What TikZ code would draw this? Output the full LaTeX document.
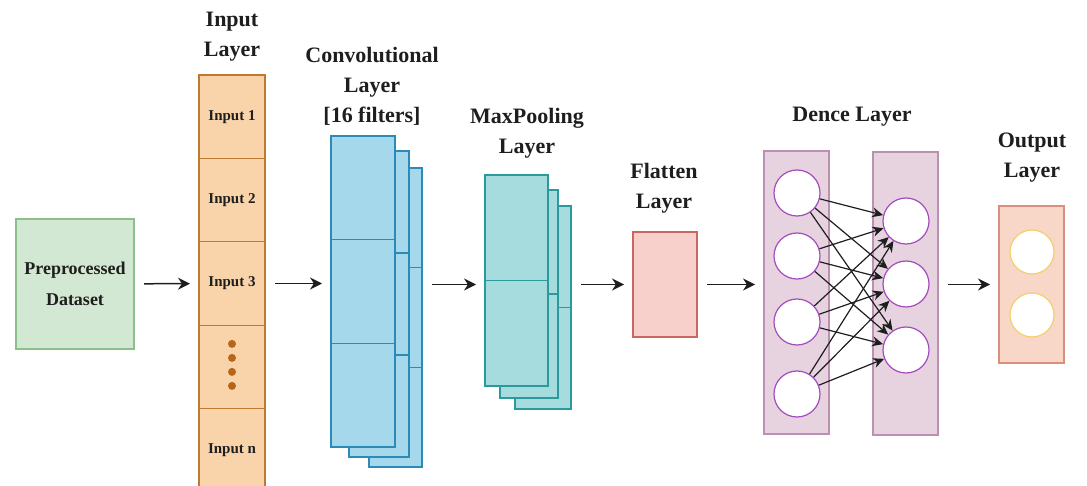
\documentclass[tikz,border=0pt]{standalone}
\usepackage{fontspec}
\setmainfont{Liberation Serif}
\definecolor{ink}{HTML}{1E1E1E}
\definecolor{prepfill}{HTML}{D3E8D2}
\definecolor{prepedge}{HTML}{8CC08A}
\definecolor{infill}{HTML}{F9D4AA}
\definecolor{inedge}{HTML}{C07A30}
\definecolor{indot}{HTML}{B8651A}
\definecolor{convfill}{HTML}{A6D8EC}
\definecolor{convedge}{HTML}{2B8AB8}
\definecolor{poolfill}{HTML}{A6DCDE}
\definecolor{pooledge}{HTML}{2A9A9E}
\definecolor{flatfill}{HTML}{F7D0CC}
\definecolor{flatedge}{HTML}{C8685F}
\definecolor{densefill}{HTML}{E6D3DF}
\definecolor{denseedge}{HTML}{BC90B0}
\definecolor{neuronedge}{HTML}{A44BBE}
\definecolor{outfill}{HTML}{F8D6C8}
\definecolor{outedge}{HTML}{DA8E7C}
\definecolor{outneuron}{HTML}{F2D06E}
\usetikzlibrary{arrows.meta,positioning,calc}

\begin{document}
\begin{tikzpicture}[x=1pt,y=-1pt,
  box/.style={rectangle, line width=1.2pt, inner sep=0pt, outer sep=0pt},
  cell/.style={box, draw=inedge, fill=infill, minimum width=66pt, minimum height=83.4pt, font=\fontsize{15}{18}\selectfont\bfseries, text=ink},
  convbox/.style={box, draw=convedge, fill=convfill},
  poolbox/.style={box, draw=pooledge, fill=poolfill},
  divider/.style={line width=1.3pt},
  layerbox/.style={box, draw=denseedge, fill=densefill, minimum width=65pt, minimum height=283pt},
  title/.style={align=center, font=\fontsize{22}{30}\selectfont\bfseries, text=ink},
  neuron/.style={circle, draw=neuronedge, fill=white, line width=1.2pt, minimum size=46pt, inner sep=0pt},
  flow/.style={-{Stealth[length=12pt,width=12pt]}, line width=1.5pt, draw=ink, shorten <=10pt, shorten >=9pt},
  link/.style={-{Stealth[length=11pt,width=10pt]}, line width=1.2pt, draw=ink},
  node distance=0pt]
\useasboundingbox (0,0) rectangle (1087,486);

\node[box, draw=prepedge, fill=prepfill, minimum width=118pt, minimum height=130pt, align=center, font=\fontsize{18}{31}\selectfont\bfseries, text=ink] (prep) at (75,284) {Preprocessed\\Dataset};

\node[title] (intitle) at (232,37) {Input\\Layer};
\node[cell] (in1) at (232,116.7) {Input 1};
\node[cell, below=of in1] (in2) {Input 2};
\node[cell, below=of in2] (in3) {Input 3};
\node[cell, below=of in3] (in4) {};
\node[cell, below=of in4] (in5) {Input n};
\foreach \d in {-23,-9,5,19}
  \fill[indot] ($(in4.center)+(0,\d)$) circle (4pt);

\node[title] (convtitle) at (372,86) {Convolutional\\Layer\\{[}16 filters{]}};
\node[convbox, minimum width=53pt, minimum height=299pt] (convc) at (395.5,317.5) {};
\foreach \f in {1/3,2/3}
  \draw[convedge, divider] ($(convc.north west)!\f!(convc.south west)$) -- ($(convc.north east)!\f!(convc.south east)$);
\node[convbox, minimum width=60pt, minimum height=306pt] (convb) at (379,304) {};
\foreach \f in {1/3,2/3}
  \draw[convedge, divider] ($(convb.north west)!\f!(convb.south west)$) -- ($(convb.north east)!\f!(convb.south east)$);
\node[convbox, minimum width=64pt, minimum height=311pt] (conva) at (363,291.5) {};
\foreach \f in {1/3,2/3}
  \draw[convedge, divider] ($(conva.north west)!\f!(conva.south west)$) -- ($(conva.north east)!\f!(conva.south east)$);

\node[title] (pooltitle) at (527,133) {MaxPooling\\Layer};
\node[poolbox, minimum width=56pt, minimum height=203pt] (poolc) at (543,307.5) {};
\draw[pooledge, divider] (poolc.west) -- (poolc.east);
\node[poolbox, minimum width=58pt, minimum height=208pt] (poolb) at (529,294) {};
\draw[pooledge, divider] (poolb.west) -- (poolb.east);
\node[poolbox, minimum width=63pt, minimum height=211pt] (poola) at (516.5,280.5) {};
\draw[pooledge, divider] (poola.west) -- (poola.east);

\node[title] (flattitle) at (664,188) {Flatten\\Layer};
\node[box, draw=flatedge, fill=flatfill, minimum width=64pt, minimum height=105pt] (flat) at (665,284.5) {};

\node[title] (densetitle) at (852,117) {Dence Layer};
\node[layerbox] (lay1) at (796.5,292.5) {};
\node[layerbox] (lay2) at (905.5,293.5) {};
\node[neuron] (da1) at (797,193) {};
\node[neuron] (da2) at (797,256) {};
\node[neuron] (da3) at (797,322) {};
\node[neuron] (da4) at (797,394) {};
\node[neuron] (db1) at (906,221) {};
\node[neuron] (db2) at (906,284) {};
\node[neuron] (db3) at (906,350) {};
\foreach \i in {1,...,4}
  \foreach \j in {1,2,3}
    \draw[link] (da\i) -- (db\j);

\node[title] (outtitle) at (1032,158) {Output\\Layer};
\node[box, draw=outedge, fill=outfill, minimum width=65pt, minimum height=157pt] (outbox) at (1031.5,284.5) {};
\node[neuron, draw=outneuron, minimum size=44pt] (out1) at (1032,252) {};
\node[neuron, draw=outneuron, minimum size=44pt] (out2) at (1032,315) {};

\draw[flow] (prep) -- (in3);
\draw[flow] (in3.east) -- (in3.east -| conva.west);
\draw[flow] (convc.east |- flat.west) -- (poola.west |- flat.west);
\draw[flow] (poolc.east |- flat.west) -- (flat.west);
\draw[flow] (flat.east) -- (flat.east -| lay1.west);
\draw[flow] (lay2.east |- outbox.west) -- (outbox.west);
\end{tikzpicture}
\end{document}
